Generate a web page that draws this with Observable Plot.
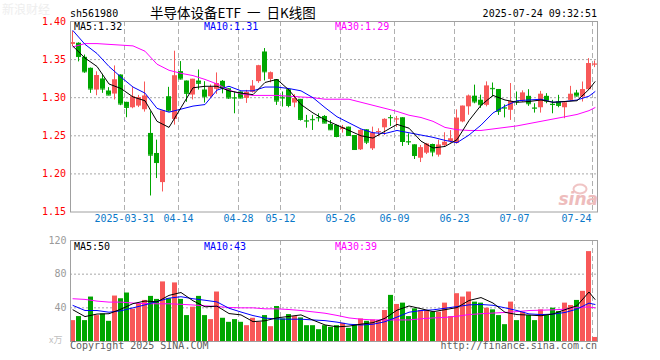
<!DOCTYPE html>
<html><head><meta charset="utf-8">
<script src="https://cdn.jsdelivr.net/npm/d3@7"></script>
<script src="https://cdn.jsdelivr.net/npm/@observablehq/plot@0.6"></script>
<style>
body{margin:0;background:#fff;}
#wrap{position:relative;width:660px;height:360px;overflow:hidden;background:#fff;}
#wrap svg{position:absolute;left:0;}
</style></head><body><div id="wrap"></div>
<script>
// ---- data ----
const open = [
1.370,1.3715,1.353,1.3386,1.310,1.3246,1.3088,1.3048,1.3298,1.2939,
1.2868,1.2890,1.2842,1.2531,1.2268,1.1886,1.3013,1.2715,1.3342,1.3219,
1.3035,1.3219,1.3101,1.3013,1.3110,1.3215,1.3118,1.3000,1.3075,1.2991,
1.3070,1.3211,1.3600,1.3240,1.3237,1.3005,1.3105,1.2930,1.2978,1.2698,
1.2715,1.2740,1.2754,1.2649,1.2636,1.2583,1.2614,1.2504,1.2316,1.2579,
1.2329,1.2545,1.2605,1.2740,1.2715,1.2737,1.2425,1.2382,1.2206,1.2272,
1.2386,1.2246,1.2370,1.2425,1.2400,1.2682,1.2880,1.3020,1.2967,1.2900,
1.3122,1.3108,1.2868,1.2835,1.2952,1.2956,1.3018,1.2866,1.2868,1.3018,
1.2914,1.2943,1.2868,1.2965,1.3061,1.3009,1.3105,1.3434];
const close = [
1.372,1.354,1.334,1.3114,1.329,1.3114,1.3035,1.3232,1.2917,1.2873,
1.3009,1.3000,1.3020,1.2246,1.2149,1.2825,1.2825,1.3285,1.3246,1.3057,
1.3241,1.3189,1.3013,1.3132,1.3184,1.3132,1.2996,1.2996,1.2996,1.3070,
1.3150,1.3417,1.3340,1.3325,1.2956,1.2996,1.2899,1.2987,1.2715,1.2693,
1.2711,1.2737,1.2667,1.2579,1.2491,1.2605,1.2504,1.2320,1.2570,1.2417,
1.2535,1.2555,1.2715,1.2737,1.2720,1.2425,1.2420,1.2241,1.2342,1.2390,
1.2289,1.2377,1.2414,1.2458,1.2730,1.2888,1.3020,1.2945,1.2908,1.3152,
1.3118,1.2822,1.2864,1.2950,1.2948,1.3060,1.2921,1.2862,1.3044,1.2956,
1.2910,1.2899,1.2930,1.3044,1.3022,1.3105,1.3447,1.3440];
const high = [
1.387,1.372,1.356,1.339,1.334,1.3307,1.3132,1.3417,1.330,1.294,
1.3132,1.3030,1.3206,1.2816,1.2443,1.2825,1.3136,1.3610,1.3474,1.3219,
1.3241,1.3364,1.3210,1.3167,1.3325,1.3225,1.3118,1.3075,1.3075,1.3096,
1.3225,1.3425,1.3645,1.3338,1.3237,1.3075,1.3105,1.3040,1.2978,1.2768,
1.2768,1.2789,1.2765,1.2700,1.2640,1.2636,1.2614,1.2504,1.2579,1.2579,
1.2614,1.2592,1.2724,1.2768,1.2754,1.2737,1.2526,1.2382,1.2373,1.2400,
1.2390,1.2443,1.2540,1.2568,1.2840,1.2890,1.3035,1.3165,1.3033,1.3208,
1.3193,1.3108,1.2905,1.3186,1.3075,1.3090,1.3105,1.2921,1.3083,1.3053,
1.2965,1.3031,1.2943,1.3149,1.3096,1.3206,1.3513,1.3482];
const low = [
1.367,1.347,1.332,1.3057,1.3026,1.3057,1.3026,1.297,1.2895,1.2737,
1.2855,1.2870,1.2811,1.1710,1.1939,1.1763,1.2816,1.2640,1.3232,1.2940,
1.2970,1.3100,1.2930,1.2991,1.3044,1.3050,1.2978,1.2789,1.2985,1.2925,
1.3060,1.3189,1.3220,1.3195,1.2899,1.2877,1.2868,1.2868,1.2693,1.2600,
1.2570,1.2680,1.2660,1.2570,1.2474,1.2535,1.2491,1.2307,1.2307,1.2385,
1.2307,1.2491,1.2504,1.2623,1.2610,1.2360,1.2373,1.2189,1.2149,1.2254,
1.2224,1.2220,1.2360,1.2405,1.2390,1.2671,1.2770,1.2920,1.2860,1.2880,
1.3009,1.2768,1.2735,1.2702,1.2899,1.2940,1.2886,1.2798,1.2798,1.2921,
1.2789,1.2868,1.2724,1.2956,1.3009,1.2943,1.3096,1.3395];
const volume = [
24.8,29.6,24.8,52.8,30.8,32.8,24,54,50.8,57.6,
38.4,44.8,48.8,53.6,50,70.8,50.8,69.6,50,30.8,
40.8,53.6,30.8,26,58.8,27.6,22.8,26,22.8,18.8,
27.6,22.8,30.8,17.6,41.6,26.8,32,29.6,28,18.8,
18.8,14,18.8,16.8,18.8,21.6,15.6,20,26.8,24,
25.6,24.8,36.8,54.8,44,45.6,29.6,38.8,36.8,36.8,
34.8,34.8,45.6,29.6,56.8,52.8,58.8,46.8,45.6,39.6,
37.6,30.8,20,46.8,24.8,34.8,30.8,24.8,37.6,30.8,
39.6,35.6,45.6,42.8,48.8,59.6,106.8,4.8];

// moving-average lines as drawn in the picture (sampled bar indices)
const maIdx = [0,2,4,6,8,10,12,14,16,18,20,22,24,26,28,30,32,34,36,38,40,42,44,46,48,50,52,54,56,58,60,62,64,66,68,70,72,74,76,78,80,82,84,86,87];
const priceMA5 = [1.3675,1.352,1.341,1.318,1.312,1.301,1.296,1.269,1.261,1.287,1.313,1.315,1.315,1.309,1.306,1.304,1.320,1.324,1.310,1.291,1.280,1.271,1.264,1.257,1.250,1.247,1.256,1.265,1.260,1.243,1.234,1.236,1.245,1.270,1.290,1.303,1.297,1.294,1.295,1.297,1.294,1.295,1.296,1.311,1.321];
const priceMA10 = [1.388,1.370,1.358,1.341,1.327,1.314,1.306,1.286,1.281,1.285,1.289,1.291,1.310,1.315,1.309,1.309,1.314,1.314,1.312,1.309,1.300,1.287,1.275,1.267,1.259,1.254,1.253,1.257,1.254,1.251,1.248,1.244,1.241,1.251,1.264,1.280,1.289,1.296,1.297,1.298,1.294,1.295,1.297,1.302,1.308];
const priceMA30 = [1.3667,1.371,1.371,1.370,1.369,1.368,1.361,1.344,1.336,1.332,1.329,1.324,1.318,1.310,1.305,1.303,1.303,1.303,1.302,1.301,1.300,1.298,1.298,1.298,1.294,1.290,1.286,1.282,1.277,1.274,1.269,1.261,1.258,1.257,1.257,1.259,1.261,1.263,1.266,1.269,1.272,1.275,1.278,1.283,1.287];
const volMA5 = [37.6,29.6,32.6,33.0,38.5,45.0,48.1,47.1,54.8,58.2,48.4,41.2,42.0,33.2,31.6,23.6,24.6,28.1,29.8,31.6,25.4,19.7,17.4,18.3,20.6,22.4,27.6,37.2,42.2,39.0,35.4,37.8,40.3,48.7,52.2,45.7,34.7,32.0,31.4,30.6,32.7,37.8,42.5,58.8,50.0];
const volMA10 = [42.8,36.8,36.8,34.8,36.5,40.0,43.5,47.5,51.5,53.2,50.8,49.0,47.0,39.5,35.0,30.8,27.8,26.8,26.5,26.5,25.6,24.8,23.0,20.5,19.6,20.5,23.5,29.0,34.8,36.8,37.6,39.5,41.5,43.5,44.0,43.0,40.0,36.8,32.8,32.0,32.5,34.5,38.5,45.6,44.0];
const volMA30 = [50.8,50.0,48.0,46.8,46.8,45.6,45.0,44.8,44.8,44.2,43.4,42.4,41.6,40.4,40.0,40.0,38.8,38.8,38.0,36.8,35.2,33.6,31.0,28.0,26.5,25.6,25.6,25.6,25.6,27.0,28.0,28.6,30.0,32.0,33.0,33.8,34.5,35.5,36.8,37.2,37.6,38.4,40.5,41.0,40.0];

const tickIdx = [9,18,28,35,45,54,64,74,87];
const tickLabels = ["2025-03-31","04-14","04-28","05-12","05-26","06-09","06-23","07-07","07-24"];
const priceTicks = [1.15,1.20,1.25,1.30,1.35,1.40];
const priceGrid = [1.20,1.25,1.30,1.35];
const volTicks = [40,80,120];
const volGrid = [40,80];
const legendPrice = ["MA5:1.32","MA10:1.31","MA30:1.29"];
const legendVol = ["MA5:50","MA10:43","MA30:39"];

// ---- build ----
const RED = "#f85858", GREEN = "#00a600";
const n = open.length;
const bars = open.map((o,i)=>({i, o, c:close[i], h:high[i], l:low[i], v:volume[i], col: close[i] >= o ? RED : GREEN}));
const ma = (vals)=> maIdx.map((k,j)=>({x:k+5/12, y:vals[j]}));
const xOpt = {type:"linear", domain:[0, n-1/6], axis:null};
const MONO = "DejaVu Sans Mono";
const wrap = document.getElementById("wrap");

const price = Plot.plot({
  width:660, height:232, marginLeft:70, marginRight:63, marginTop:21, marginBottom:20.5,
  style:{fontFamily:MONO, fontSize:"10px", background:"transparent", overflow:"visible"},
  x:xOpt,
  y:{domain:[1.15,1.40]},
  marks:[
    Plot.ruleY(priceGrid, {y:d=>d, stroke:"#a8a8a8", strokeDasharray:"2,2"}),
    Plot.ruleX(tickIdx, {x:d=>d, stroke:"#b0b0b0", strokeDasharray:"5,3"}),
    Plot.ruleX(bars, {x:d=>d.i+1/3, y1:"l", y2:"h", stroke:"col"}),
    Plot.rect(bars, {x1:"i", x2:d=>d.i+5/6, y1:d=>Math.min(d.o,d.c), y2:d=>Math.max(d.o,d.c), fill:"col"}),
    Plot.ruleY(bars, {y:"c", x1:"i", x2:d=>d.i+5/6, stroke:"col"}),
    Plot.line(ma(priceMA30), {x:"x", y:"y", stroke:"#ff00ff", strokeWidth:1}),
    Plot.line(ma(priceMA10), {x:"x", y:"y", stroke:"#0000ff", strokeWidth:1}),
    Plot.line(ma(priceMA5), {x:"x", y:"y", stroke:"#000", strokeWidth:1}),
    Plot.frame({stroke:"#a0a0a0"}),
    Plot.axisY({ticks:priceTicks, tickSize:0, tickPadding:4.5, tickFormat:d=>d.toFixed(2), color:"#f00", label:null}),
    Plot.text(tickIdx.slice(0,-1), {x:d=>d, text:(d,i)=>tickLabels[i], frameAnchor:"bottom", dy:10, fill:"#0a78c8"}),
    Plot.text(tickIdx.slice(-1), {x:d=>d, text:()=>tickLabels[tickLabels.length-1], frameAnchor:"bottom", dy:10, dx:-1, textAnchor:"end", fill:"#0a78c8"})
  ]
});
price.style.top = "0px";
wrap.appendChild(price);

const vol = Plot.plot({
  width:660, height:130, marginLeft:70, marginRight:63, marginTop:10, marginBottom:19,
  style:{fontFamily:MONO, fontSize:"10px", background:"transparent", overflow:"visible"},
  x:xOpt,
  y:{domain:[0,120]},
  marks:[
    Plot.ruleY(volGrid, {y:d=>d, stroke:"#a8a8a8", strokeDasharray:"2,2"}),
    Plot.ruleX(tickIdx, {x:d=>d, stroke:"#b0b0b0", strokeDasharray:"5,3"}),
    Plot.rect(bars, {x1:"i", x2:d=>d.i+5/6, y1:0, y2:"v", fill:"col"}),
    Plot.line(ma(volMA30), {x:"x", y:"y", stroke:"#ff00ff", strokeWidth:1}),
    Plot.line(ma(volMA10), {x:"x", y:"y", stroke:"#0000ff", strokeWidth:1}),
    Plot.line(ma(volMA5), {x:"x", y:"y", stroke:"#000", strokeWidth:1}),
    Plot.frame({stroke:"#a0a0a0"}),
    Plot.axisY({ticks:volTicks, tickSize:0, tickPadding:4, color:"#9a9a9a", label:null})
  ]
});
vol.style.top = "230px";
wrap.appendChild(vol);

// ---- text overlay ----
const ov = d3.select(wrap).append("svg").attr("width",660).attr("height",360)
  .style("position","absolute").style("left","0px").style("top","0px");
const t = (x,y,s,o={})=> ov.append("text").attr("x",x).attr("y",y)
  .attr("font-family",o.ff||MONO).attr("font-size",o.fs||10).attr("fill",o.fill||"#000")
  .attr("text-anchor",o.a||"start").attr("font-style",o.fst||null).attr("font-weight",o.fw||null)
  .attr("xml:space","preserve").style("white-space","pre").text(s);

t(2,14,"新浪财经",{ff:"Noto Sans CJK SC",fs:12,fill:"#eeeeee"});
t(70,17,"sh561980");
t(150,17.5,"半导体设备ETF  一  日K线图",{ff:"Noto Sans CJK SC",fs:13.5});
t(597,17,"2025-07-24 09:32:51",{a:"end"});
const lx = [74,204,335], lc = ["#000","#0000ff","#ff00ff"];
legendPrice.forEach((s,i)=>t(lx[i],30,s,{fill:lc[i]}));
legendVol.forEach((s,i)=>t(lx[i],250,s,{fill:lc[i]}));
t(49,343,"x万",{ff:"Noto Sans CJK SC",fs:9,fill:"#c0c0c0"});
t(70,349,"Copyright 2025 SINA.COM",{fill:"#606060"});
t(597,349,"http://finance.sina.com.cn",{a:"end",fill:"#606060"});
ov.append("ellipse").attr("cx",580).attr("cy",189).attr("rx",6.5).attr("ry",4.5)
  .attr("fill","none").attr("stroke","#f0c4c4").attr("stroke-width",2);
t(598,205,"sina",{ff:"DejaVu Sans",fs:17,fill:"#eebcbc",a:"end",fst:"italic",fw:"bold"});
</script></body></html>
